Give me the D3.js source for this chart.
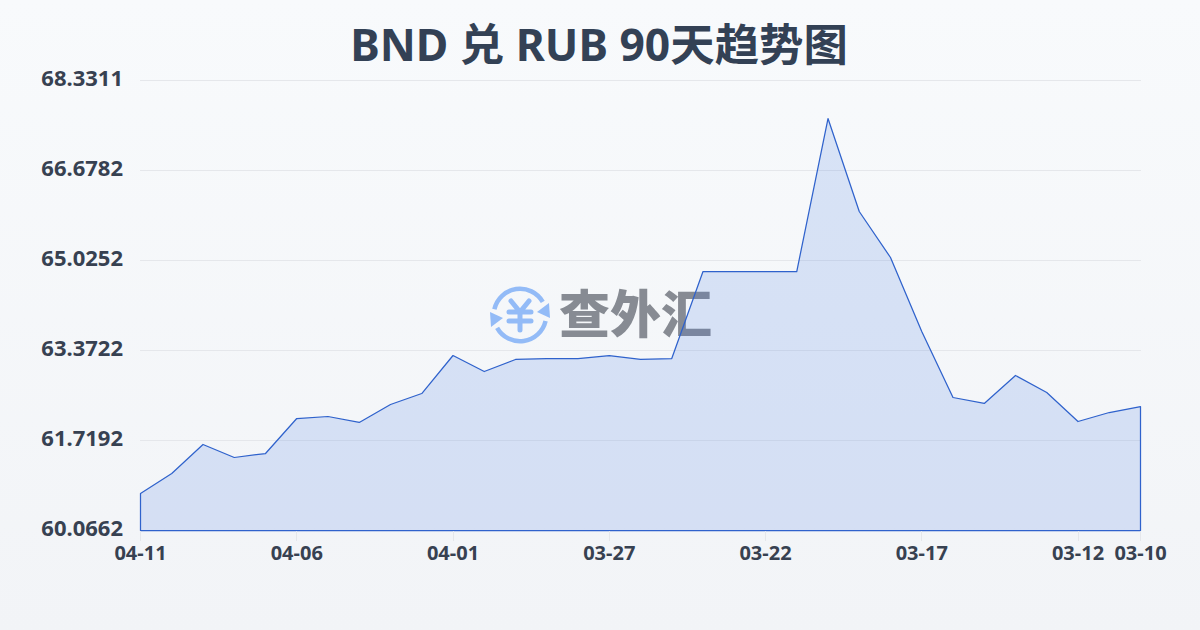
<!DOCTYPE html>
<html><head><meta charset="utf-8">
<script src="https://cdn.jsdelivr.net/npm/d3@7/dist/d3.min.js"></script>
<style>html,body{margin:0;padding:0;width:1200px;height:630px;overflow:hidden}svg{display:block}</style>
</head><body><svg id="c" width="1200" height="630"></svg>
<script>
const titleText = "BND 兑 RUB 90天趋势图";
const watermarkText = "查外汇";
const dates = ["04-11","04-10","04-09","04-08","04-07","04-06","04-05","04-04","04-03","04-02","04-01","03-31","03-30","03-29","03-28","03-27","03-26","03-25","03-24","03-23","03-22","03-21","03-20","03-19","03-18","03-17","03-16","03-15","03-14","03-13","03-12","03-11","03-10"];
const values = [60.746,61.113,61.646,61.407,61.480,62.123,62.160,62.050,62.380,62.582,63.280,62.986,63.207,63.225,63.225,63.280,63.207,63.225,64.823,64.823,64.823,64.823,67.633,65.925,65.080,63.721,62.509,62.399,62.913,62.601,62.068,62.233,62.343];
const yTicks = [60.0662,61.7192,63.3722,65.0252,66.6782,68.3311];
const xTickLabels = ["04-11","04-06","04-01","03-27","03-22","03-17","03-12","03-10"];

const svg = d3.select("#c");
const font = "'Noto Sans','Noto Sans CJK SC',sans-serif";
const defs = svg.append("defs");
const bg = defs.append("linearGradient").attr("id","bg").attr("x1",0).attr("y1",0).attr("x2",0).attr("y2",1);
bg.append("stop").attr("offset",0).attr("stop-color","#f8fafc");
bg.append("stop").attr("offset",1).attr("stop-color","#f2f4f7");
svg.append("rect").attr("width",1200).attr("height",630).attr("fill","url(#bg)");

const x = d3.scalePoint().domain(dates).range([140.5,1140.5]);
const y = d3.scaleLinear().domain([60.0662,68.3311]).range([530.5,80.5]);

// title
svg.append("text").attr("x",599).attr("y",61).attr("text-anchor","middle")
  .attr("font-family",font).attr("font-weight",700).attr("font-size",44.4).attr("fill","#334155").text(titleText);

// grid
svg.append("g").selectAll("line").data(yTicks.slice(1)).join("line")
  .attr("x1",140).attr("x2",1141).attr("y1",d=>Math.floor(y(d)+.01)+.5).attr("y2",d=>Math.floor(y(d)+.01)+.5)
  .attr("stroke","#e5e7eb").attr("stroke-width",1);

// y labels
svg.append("g").selectAll("text").data(yTicks).join("text")
  .attr("x",123).attr("y",d=>y(d)+5.5).attr("text-anchor","end")
  .attr("font-family",font).attr("font-weight",700).attr("font-size",22).attr("fill","#374151")
  .text(d=>d.toFixed(4));

// watermark
const wm = svg.append("g");
const blue = "#93bbf7";
const arc = d3.arc();
const ic = wm.append("g").attr("transform","translate(520,315)");
ic.append("path").attr("d",arc({innerRadius:24,outerRadius:28.5,startAngle:-1.35,endAngle:1.05})).attr("fill",blue);
ic.append("path").attr("d",arc({innerRadius:24,outerRadius:28.5,startAngle:1.8,endAngle:4.2})).attr("fill",blue);
ic.append("path").attr("d",d3.line()([[29,-12],[17,-3],[30,3]])).attr("fill",blue);
ic.append("path").attr("d",d3.line()([[-29,12],[-17,3],[-30,-3]])).attr("fill",blue);
ic.append("path").attr("d","M-9,-14L0,-3L9,-14M-11,-3H11M-11,6H11M0,-3V15").attr("fill","none").attr("stroke",blue).attr("stroke-width",5).attr("stroke-linecap","round").attr("stroke-linejoin","round");
wm.append("text").attr("x",559).attr("y",333).attr("font-family","'Noto Sans CJK SC'").attr("font-weight",900)
  .attr("font-size",51).attr("fill","#878b93").text(watermarkText);

// area + line
const area = d3.area().x(d=>x(d[0])).y0(y(60.0662)).y1(d=>y(d[1]));
const pts = dates.map((d,i)=>[d,values[i]]);
svg.append("path").attr("d",area(pts)).attr("fill","#3b6fe0").attr("fill-opacity",.16);
svg.append("path").attr("d",area(pts)).attr("fill","none").attr("stroke","#2f62cc").attr("stroke-width",1.25).attr("stroke-linejoin","round");

// x ticks
const xg = svg.append("g");
xg.selectAll("line").data(xTickLabels).join("line")
  .attr("x1",d=>Math.floor(x(d))+.5).attr("x2",d=>Math.floor(x(d))+.5).attr("y1",531).attr("y2",541)
  .attr("stroke","#e5e7eb");
xg.selectAll("text").data(xTickLabels).join("text")
  .attr("x",d=>x(d)).attr("y",560).attr("text-anchor","middle")
  .attr("font-family",font).attr("font-weight",700).attr("font-size",20).attr("fill","#374151").text(d=>d);
</script></body></html>
